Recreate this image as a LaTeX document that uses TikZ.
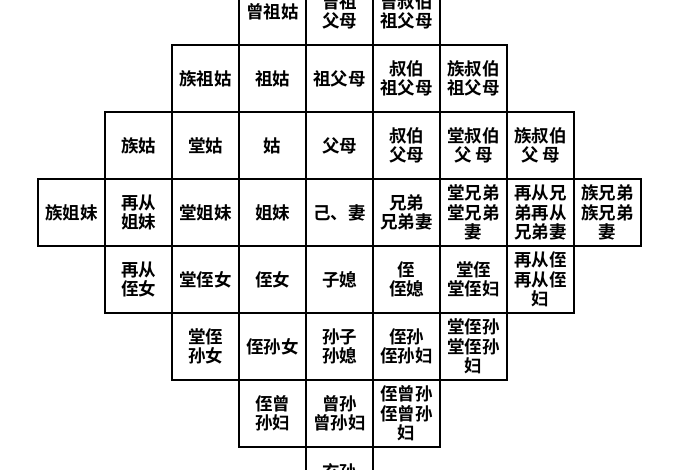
\documentclass[tikz,border=0pt]{standalone}
\usepackage{fontspec}
\newfontfamily\cjk{Noto Sans CJK SC Bold}

\begin{document}
\begin{tikzpicture}[x=1pt,y=-1pt,
  cell/.style={draw,line width=1.8pt,minimum width=67pt,minimum height=67pt,
    inner sep=0pt,align=center,font={\cjk\fontsize{17.5}{19.5}\selectfont}}]
\useasboundingbox (0,0) rectangle (700,470);
\clip (0,0) rectangle (700,470);
% great-grandparents
\node[cell] (zengzugu) at (272.5,11.5) {曾祖姑};
\node[cell] (zengzufumu) at (339.5,11.5) {曾祖\\父母};
\node[cell] (zengshubo) at (406.5,11.5) {曾叔伯\\祖父母};
% grandparents
\node[cell] (zuzugu) at (205.5,78.5) {族祖姑};
\node[cell] (zugu) at (272.5,78.5) {祖姑};
\node[cell] (zufumu) at (339.5,78.5) {祖父母};
\node[cell] (shubozufumu) at (406.5,78.5) {叔伯\\祖父母};
\node[cell] (zushubozufumu) at (473.5,78.5) {族叔伯\\祖父母};
% parents
\node[cell] (zuguaunt) at (138.5,145.5) {族姑};
\node[cell] (tanggu) at (205.5,145.5) {堂姑};
\node[cell] (gu) at (272.5,145.5) {姑};
\node[cell] (fumu) at (339.5,145.5) {父母};
\node[cell] (shubofumu) at (406.5,145.5) {叔伯\\父母};
\node[cell] (tangshubo) at (473.5,145.5) {堂叔伯\\父 母};
\node[cell] (zushubo) at (540.5,145.5) {族叔伯\\父 母};
% self
\node[cell] (zujiemei) at (71.5,212.5) {族姐妹};
\node[cell] (zaicongjiemei) at (138.5,212.5) {再从\\姐妹};
\node[cell] (tangjiemei) at (205.5,212.5) {堂姐妹};
\node[cell] (jiemei) at (272.5,212.5) {姐妹};
\node[cell] (jiqi) at (339.5,212.5) {己、妻};
\node[cell] (xiongdi) at (406.5,212.5) {兄弟\\兄弟妻};
\node[cell] (tangxiongdi) at (473.5,212.5) {堂兄弟\\堂兄弟\\妻};
\node[cell] (zaicongxiongdi) at (540.5,212.5) {再从兄\\弟再从\\兄弟妻};
\node[cell] (zuxiongdi) at (607.5,212.5) {族兄弟\\族兄弟\\妻};
% children
\node[cell] (zaicongzhinv) at (138.5,279.5) {再从\\侄女};
\node[cell] (tangzhinv) at (205.5,279.5) {堂侄女};
\node[cell] (zhinv) at (272.5,279.5) {侄女};
\node[cell] (zixi) at (339.5,279.5) {子媳};
\node[cell] (zhi) at (406.5,279.5) {侄\\侄媳};
\node[cell] (tangzhi) at (473.5,279.5) {堂侄\\堂侄妇};
\node[cell] (zaicongzhi) at (540.5,279.5) {再从侄\\再从侄\\妇};
% grandchildren
\node[cell] (tangzhisunnv) at (205.5,346.5) {堂侄\\孙女};
\node[cell] (zhisunnv) at (272.5,346.5) {侄孙女};
\node[cell] (sunzi) at (339.5,346.5) {孙子\\孙媳};
\node[cell] (zhisun) at (406.5,346.5) {侄孙\\侄孙妇};
\node[cell] (tangzhisun) at (473.5,346.5) {堂侄孙\\堂侄孙\\妇};
% great-grandchildren
\node[cell] (zhizengsunfu) at (272.5,413.5) {侄曾\\孙妇};
\node[cell] (zengsun) at (339.5,413.5) {曾孙\\曾孙妇};
\node[cell] (zhizengsun) at (406.5,413.5) {侄曾孙\\侄曾孙\\妇};
% great-great-grandchildren
\node[cell] (xuansun) at (339.5,480.5) {玄孙\\~};
\end{tikzpicture}
\end{document}
